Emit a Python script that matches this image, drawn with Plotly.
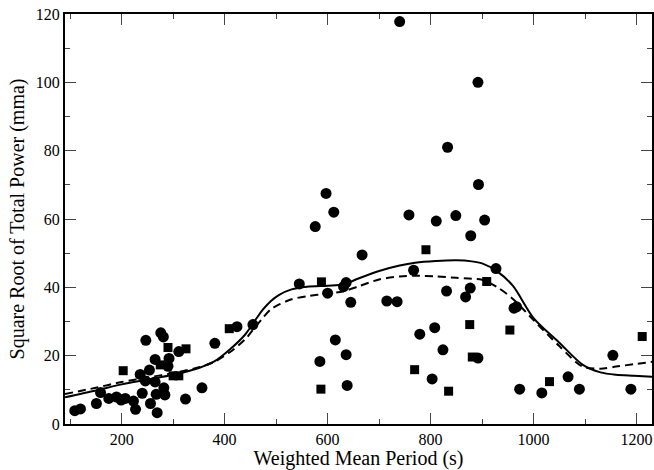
import plotly.graph_objects as go

# Circles (period s, sqrt power mma)
circle_x = [109, 120, 151, 159, 175, 190, 199, 207, 223, 227, 240, 236, 247, 246, 254, 256,
            265, 265, 267, 269, 276, 281, 282, 284, 290, 292, 311, 324, 356, 381, 424, 455,
            545, 576, 597, 612, 585, 615, 636, 638, 600, 631, 636, 645, 667, 715, 735, 740,
            758, 767, 779, 803, 808, 811, 824, 831, 833, 849, 868, 877, 878, 892, 892, 893,
            905, 927, 962, 967, 973, 1016, 1067, 1089, 1154, 1189]
circle_y = [3.9, 4.4, 6.0, 9.2, 7.5, 7.9, 7.0, 7.5, 6.7, 4.3, 9.0, 14.5, 24.5, 12.6, 15.8, 6.0,
            18.9, 12.3, 8.7, 3.3, 26.7, 25.5, 10.6, 8.5, 16.9, 19.2, 21.2, 7.3, 10.6, 23.6, 28.5, 29.1,
            41.0, 57.8, 67.5, 62.0, 18.3, 24.6, 20.3, 11.3, 38.3, 40.2, 41.4, 35.6, 49.5, 36.0, 35.8, 117.8,
            61.2, 45.0, 26.3, 13.2, 28.2, 59.4, 21.7, 38.9, 81.0, 61.0, 37.2, 39.8, 55.1, 19.3, 100.0, 70.1,
            59.7, 45.5, 33.9, 34.3, 10.2, 9.1, 13.8, 10.2, 20.1, 10.2]

# Squares
square_x = [203, 275, 290, 300, 311, 325, 409, 587, 588, 769, 791, 835, 876, 881, 909, 954, 1031, 1211]
square_y = [15.6, 17.3, 22.4, 14.1, 14.1, 22.0, 27.9, 10.2, 41.6, 15.9, 51.0, 9.6, 29.1, 19.6, 41.7, 27.5, 12.4, 25.6]

# Fitted curves
curve_x = [90, 150, 200, 250, 300, 350, 380, 410, 440, 460, 475, 490, 506, 530, 560, 600, 630, 660,
           700, 740, 770, 810, 850, 880, 900, 930, 960, 1000, 1050, 1095, 1130, 1160, 1195, 1230]
solid_y = [7.8, 9.8, 11.6, 13.0, 14.4, 16.4, 18.3, 21.8, 26.2, 30.5, 33.6, 36.0, 37.8, 39.4, 40.2, 40.5, 40.8, 42.6,
           44.8, 46.4, 47.2, 47.7, 47.9, 47.6, 47.0, 44.6, 40.4, 31.0, 23.8, 17.4, 15.1, 14.4, 14.1, 13.8]
dashed_y = [8.8, 10.6, 12.3, 13.6, 14.9, 16.6, 18.2, 21.0, 24.8, 28.5, 31.2, 33.6, 35.0, 36.5, 37.4, 38.2, 38.8, 40.3,
            42.3, 43.2, 43.4, 43.2, 42.8, 42.5, 42.2, 40.0, 36.6, 30.4, 22.8, 16.8, 16.2, 16.8, 17.5, 18.2]

fig = go.Figure()
fig.add_trace(go.Scatter(x=curve_x, y=solid_y, mode="lines",
                         line=dict(color="black", width=2, shape="spline", smoothing=0.8), showlegend=False))
fig.add_trace(go.Scatter(x=curve_x, y=dashed_y, mode="lines",
                         line=dict(color="black", width=2, dash="8px,5px", shape="spline", smoothing=0.8),
                         showlegend=False))
fig.add_trace(go.Scatter(x=circle_x, y=circle_y, mode="markers",
                         marker=dict(symbol="circle", size=11, color="black"), showlegend=False))
fig.add_trace(go.Scatter(x=square_x, y=square_y, mode="markers",
                         marker=dict(symbol="square", size=9, color="black"), showlegend=False))

font = "Liberation Serif"
fig.update_layout(
    width=654, height=470,
    margin=dict(l=65, r=2, t=14, b=46),
    paper_bgcolor="white", plot_bgcolor="white",
    font=dict(family=font, size=16, color="black"),
    xaxis=dict(range=[90, 1230], tickvals=[200, 400, 600, 800, 1000, 1200],
               ticks="inside", ticklen=11, tickwidth=1, tickcolor="#444",
               minor=dict(ticks="inside", ticklen=5, tickwidth=1, tickcolor="#444", dtick=100, tick0=0),
               showline=True, linecolor="black", linewidth=2, mirror="ticks",
               showgrid=False, zeroline=False, automargin=False,
               title=dict(text="Weighted Mean Period (s)", font=dict(family=font, size=20), standoff=2),
               tickfont=dict(family=font, size=16)),
    yaxis=dict(range=[0, 120], tickvals=[0, 20, 40, 60, 80, 100, 120],
               ticks="inside", ticklen=11, tickwidth=1, tickcolor="#444",
               minor=dict(ticks="inside", ticklen=5, tickwidth=1, tickcolor="#444", dtick=10, tick0=0),
               showline=True, linecolor="black", linewidth=2, mirror="ticks",
               showgrid=False, zeroline=False, automargin=False,
               title=dict(text="Square Root of Total Power (mma)", font=dict(family=font, size=20), standoff=6),
               tickfont=dict(family=font, size=16)),
)

fig.write_html("out.html", config={"displayModeBar": False},
               post_script="document.body.style.margin='0px';document.body.style.overflow='hidden';")
